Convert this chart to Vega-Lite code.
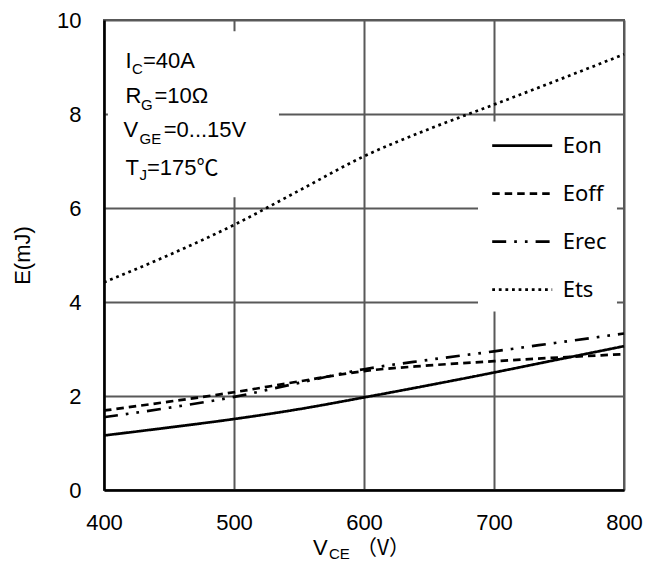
{
  "$schema": "https://vega.github.io/schema/vega-lite/v6.json",
  "width": 520,
  "height": 470,
  "autosize": {"type": "none"},
  "padding": {"left": 104, "top": 20, "right": 25, "bottom": 74},
  "background": "white",
  "config": {
    "view": {"stroke": "#595959", "strokeWidth": 2},
    "font": "Liberation Sans"
  },
  "data": {"values": [{}]},
  "datasets": {
    "curves": [
      {"V": 400, "E": 1.16, "series": "Eon"},
      {"V": 450, "E": 1.33, "series": "Eon"},
      {"V": 500, "E": 1.51, "series": "Eon"},
      {"V": 550, "E": 1.72, "series": "Eon"},
      {"V": 600, "E": 1.97, "series": "Eon"},
      {"V": 650, "E": 2.23, "series": "Eon"},
      {"V": 700, "E": 2.50, "series": "Eon"},
      {"V": 750, "E": 2.78, "series": "Eon"},
      {"V": 800, "E": 3.06, "series": "Eon"},
      {"V": 400, "E": 1.69, "series": "Eoff"},
      {"V": 450, "E": 1.88, "series": "Eoff"},
      {"V": 500, "E": 2.08, "series": "Eoff"},
      {"V": 550, "E": 2.31, "series": "Eoff"},
      {"V": 600, "E": 2.53, "series": "Eoff"},
      {"V": 650, "E": 2.65, "series": "Eoff"},
      {"V": 700, "E": 2.74, "series": "Eoff"},
      {"V": 750, "E": 2.82, "series": "Eoff"},
      {"V": 800, "E": 2.89, "series": "Eoff"},
      {"V": 400, "E": 1.55, "series": "Erec"},
      {"V": 450, "E": 1.75, "series": "Erec"},
      {"V": 500, "E": 1.98, "series": "Erec"},
      {"V": 550, "E": 2.28, "series": "Erec"},
      {"V": 600, "E": 2.57, "series": "Erec"},
      {"V": 650, "E": 2.77, "series": "Erec"},
      {"V": 700, "E": 2.95, "series": "Erec"},
      {"V": 750, "E": 3.14, "series": "Erec"},
      {"V": 800, "E": 3.33, "series": "Erec"},
      {"V": 400, "E": 4.42, "series": "Ets"},
      {"V": 450, "E": 5.00, "series": "Ets"},
      {"V": 500, "E": 5.64, "series": "Ets"},
      {"V": 550, "E": 6.37, "series": "Ets"},
      {"V": 600, "E": 7.10, "series": "Ets"},
      {"V": 650, "E": 7.68, "series": "Ets"},
      {"V": 700, "E": 8.20, "series": "Ets"},
      {"V": 750, "E": 8.73, "series": "Ets"},
      {"V": 800, "E": 9.27, "series": "Ets"}
    ]
  },
  "resolve": {"scale": {"x": "shared", "y": "shared"}},
  "layer": [
    {
      "data": {"name": "curves"},
      "mark": {"type": "line", "color": "black", "strokeWidth": 2.7, "interpolate": "monotone"},
      "encoding": {
        "x": {
          "field": "V", "type": "quantitative",
          "scale": {"domain": [400, 800], "nice": false, "zero": false},
          "axis": {
            "values": [400, 500, 600, 700, 800],
            "title": null,
            "grid": true,
            "domainColor": "black", "domainWidth": 2.5,
            "gridColor": "#595959", "gridWidth": 2, "gridOpacity": 1,
            "ticks": false,
            "labelFlush": false,
            "labelFont": "Liberation Sans", "labelFontSize": 22, "labelColor": "black",
            "labelPadding": 22.5
          }
        },
        "y": {
          "field": "E", "type": "quantitative",
          "scale": {"domain": [0, 10], "nice": false},
          "axis": {
            "values": [0, 2, 4, 6, 8, 10],
            "title": "E(mJ)",
            "grid": true,
            "titleFont": "Liberation Sans", "titleFontSize": 22, "titleFontWeight": "normal", "titleColor": "black",
            "titlePadding": 22,
            "domainColor": "black", "domainWidth": 2.5,
            "gridColor": "#595959", "gridWidth": 2, "gridOpacity": 1,
            "ticks": false,
            "labelFont": "Liberation Sans", "labelFontSize": 22, "labelColor": "black",
            "labelPadding": 23
          }
        },
        "strokeDash": {
          "field": "series", "type": "nominal",
          "scale": {
            "domain": ["Eon", "Eoff", "Erec", "Ets"],
            "range": [[1, 0], [7.5, 5], [14, 8, 2.7, 8, 2.7, 8], [2.8, 3.8]]
          },
          "legend": {
            "orient": "none", "legendX": 386.7, "legendY": 102,
            "title": null,
            "symbolType": "stroke", "symbolSize": 3600, "symbolStrokeWidth": 2.7, "symbolStrokeColor": "black",
            "labelFont": "Noto Sans", "labelFontSize": 22, "labelColor": "black", "labelOffset": 9,
            "clipHeight": 47.3, "rowPadding": 0, "padding": 0
          }
        }
      }
    },
    {
      "mark": {"type": "rect", "fill": "white"},
      "encoding": {
        "x": {"datum": 403, "type": "quantitative"},
        "x2": {"datum": 534.6},
        "y": {"datum": 9.76, "type": "quantitative"},
        "y2": {"datum": 6.23}
      }
    },
    {
      "mark": {"type": "rect", "fill": "white"},
      "encoding": {
        "x": {"datum": 687.7, "type": "quantitative"},
        "x2": {"datum": 794.6},
        "y": {"datum": 7.84, "type": "quantitative"},
        "y2": {"datum": 3.80}
      }
    },
    {"mark": {"type": "text", "align": "left", "baseline": "alphabetic", "fontSize": 22, "font": "Liberation Sans", "color": "black", "dx": 21.5}, "encoding": {"x": {"datum": 400, "type": "quantitative"}, "y": {"datum": 8.98, "type": "quantitative"}, "text": {"value": "I"}}},
    {"mark": {"type": "text", "align": "left", "baseline": "alphabetic", "fontSize": 15, "font": "Liberation Sans", "color": "black", "dx": 28, "dy": 6}, "encoding": {"x": {"datum": 400, "type": "quantitative"}, "y": {"datum": 8.98, "type": "quantitative"}, "text": {"value": "C"}}},
    {"mark": {"type": "text", "align": "left", "baseline": "alphabetic", "fontSize": 22, "font": "Liberation Sans", "color": "black", "dx": 39}, "encoding": {"x": {"datum": 400, "type": "quantitative"}, "y": {"datum": 8.98, "type": "quantitative"}, "text": {"value": "=40A"}}},
    {"mark": {"type": "text", "align": "left", "baseline": "alphabetic", "fontSize": 22, "font": "Liberation Sans", "color": "black", "dx": 21.6}, "encoding": {"x": {"datum": 400, "type": "quantitative"}, "y": {"datum": 8.234, "type": "quantitative"}, "text": {"value": "R"}}},
    {"mark": {"type": "text", "align": "left", "baseline": "alphabetic", "fontSize": 15, "font": "Liberation Sans", "color": "black", "dx": 37, "dy": 6.5}, "encoding": {"x": {"datum": 400, "type": "quantitative"}, "y": {"datum": 8.234, "type": "quantitative"}, "text": {"value": "G"}}},
    {"mark": {"type": "text", "align": "left", "baseline": "alphabetic", "fontSize": 22, "font": "Liberation Sans", "color": "black", "dx": 50.5}, "encoding": {"x": {"datum": 400, "type": "quantitative"}, "y": {"datum": 8.234, "type": "quantitative"}, "text": {"value": "=10Ω"}}},
    {"mark": {"type": "text", "align": "left", "baseline": "alphabetic", "fontSize": 22, "font": "Liberation Sans", "color": "black", "dx": 19.5}, "encoding": {"x": {"datum": 400, "type": "quantitative"}, "y": {"datum": 7.511, "type": "quantitative"}, "text": {"value": "V"}}},
    {"mark": {"type": "text", "align": "left", "baseline": "alphabetic", "fontSize": 15, "font": "Liberation Sans", "color": "black", "dx": 35.5, "dy": 7}, "encoding": {"x": {"datum": 400, "type": "quantitative"}, "y": {"datum": 7.511, "type": "quantitative"}, "text": {"value": "GE"}}},
    {"mark": {"type": "text", "align": "left", "baseline": "alphabetic", "fontSize": 22, "font": "Liberation Sans", "color": "black", "dx": 59.7}, "encoding": {"x": {"datum": 400, "type": "quantitative"}, "y": {"datum": 7.511, "type": "quantitative"}, "text": {"value": "=0...15V"}}},
    {"mark": {"type": "text", "align": "left", "baseline": "alphabetic", "fontSize": 22, "font": "Liberation Sans", "color": "black", "dx": 21.6}, "encoding": {"x": {"datum": 400, "type": "quantitative"}, "y": {"datum": 6.694, "type": "quantitative"}, "text": {"value": "T"}}},
    {"mark": {"type": "text", "align": "left", "baseline": "alphabetic", "fontSize": 15, "font": "Liberation Sans", "color": "black", "dx": 35.6, "dy": 5}, "encoding": {"x": {"datum": 400, "type": "quantitative"}, "y": {"datum": 6.694, "type": "quantitative"}, "text": {"value": "J"}}},
    {"mark": {"type": "text", "align": "left", "baseline": "alphabetic", "fontSize": 22, "font": "Liberation Sans, Noto Sans CJK SC", "color": "black", "dx": 43}, "encoding": {"x": {"datum": 400, "type": "quantitative"}, "y": {"datum": 6.694, "type": "quantitative"}, "text": {"value": "=175℃"}}},
    {"mark": {"type": "text", "align": "left", "baseline": "alphabetic", "fontSize": 22, "font": "Liberation Sans", "color": "black", "dx": -51}, "encoding": {"x": {"datum": 600, "type": "quantitative"}, "y": {"datum": -1.38, "type": "quantitative"}, "text": {"value": "V"}}},
    {"mark": {"type": "text", "align": "left", "baseline": "alphabetic", "fontSize": 15, "font": "Liberation Sans", "color": "black", "dx": -35, "dy": 4.5}, "encoding": {"x": {"datum": 600, "type": "quantitative"}, "y": {"datum": -1.38, "type": "quantitative"}, "text": {"value": "CE"}}},
    {"mark": {"type": "text", "align": "left", "baseline": "alphabetic", "fontSize": 21, "font": "Noto Sans CJK SC", "color": "black", "dx": -8}, "encoding": {"x": {"datum": 600, "type": "quantitative"}, "y": {"datum": -1.38, "type": "quantitative"}, "text": {"value": "（V）"}}}
  ]
}
